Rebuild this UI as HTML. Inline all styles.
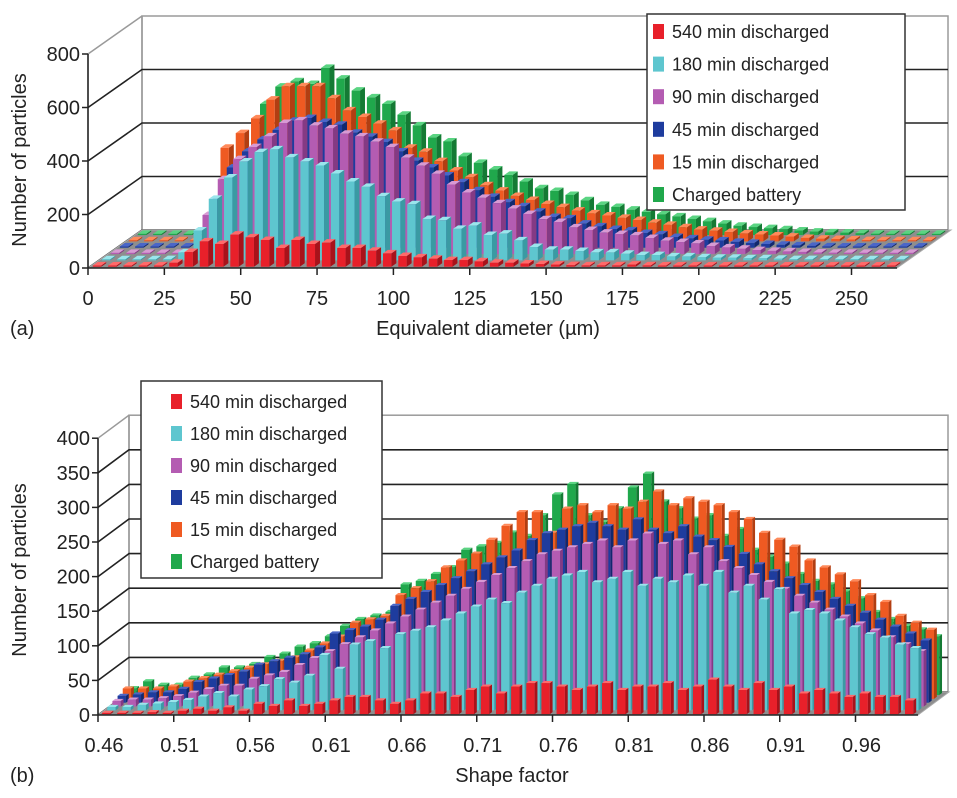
<!DOCTYPE html>
<html><head><meta charset="utf-8"><style>
html,body{margin:0;padding:0;background:#fff;}
svg{display:block;font-family:"Liberation Sans",sans-serif;}
</style></head><body>
<svg id="fig" width="957" height="798" viewBox="0 0 957 798" xmlns="http://www.w3.org/2000/svg"></svg>
<script>
// ---- Chart A data (Equivalent diameter, 5 µm bins) ----
const seriesNames = ["540 min discharged","180 min discharged","90 min discharged","45 min discharged","15 min discharged","Charged battery"];
const xTicksA = ["0","25","50","75","100","125","150","175","200","225","250"];
const yTicksA = [0,200,400,600,800];
const redA = [0,0,0,0,0,15,55,95,85,120,110,100,70,100,85,90,70,70,60,50,40,35,30,25,25,20,15,15,12,10,8,6,5,5,5,8,5,4,4,3,3,3,2,2,2,2,2,1,1,1,1,1,1];
const cyanA = [0,0,0,0,5,30,112,230,310,370,405,415,385,370,355,325,295,275,240,220,210,155,150,118,130,95,100,75,50,40,40,35,30,30,25,20,20,15,15,12,10,10,8,8,6,5,5,5,5,5,4,4,3];
const magentaA = [0,0,0,0,0,0,146,280,355,400,440,490,500,480,470,450,440,420,400,360,330,300,260,230,210,190,170,150,130,120,100,90,80,75,70,60,50,45,40,30,25,20,15,12,10,8,6,5,5,4,4,3,3];
const blueA = [0,0,0,0,0,18,180,300,360,405,440,475,485,470,460,430,415,395,360,325,300,270,245,215,190,170,155,135,115,110,90,80,70,65,55,50,40,35,30,27,22,18,14,11,9,7,5,4,4,3,3,2,2];
const orangeA = [0,0,0,0,0,88,350,405,460,530,580,580,580,535,490,465,440,415,350,335,300,265,240,210,190,170,155,140,128,115,105,97,88,80,70,62,53,44,40,35,30,26,22,18,13,10,9,7,5,4,4,3,3];
const greenA = [0,0,0,0,0,0,0,0,490,555,575,565,625,585,540,515,490,450,410,365,350,295,270,245,225,200,175,165,150,130,113,105,95,87,78,70,60,52,43,35,30,26,22,17,13,10,9,7,5,4,3,3,2];
// ---- Chart B data (Shape factor, 0.01 bins from 0.46) ----
const xTicksB = ["0.46","0.51","0.56","0.61","0.66","0.71","0.76","0.81","0.86","0.91","0.96"];
const yTicksB = [0,50,100,150,200,250,300,350,400];
const redB = [2,2,2,3,2,5,8,5,10,5,15,12,20,12,15,20,25,25,20,15,20,30,30,25,35,40,30,40,45,45,40,35,40,45,35,40,40,45,35,40,50,40,35,45,35,40,30,35,30,25,30,25,25,20];
const cyanB = [5,5,8,10,12,15,20,25,20,30,35,45,40,50,80,60,95,100,90,110,115,120,130,140,150,160,155,170,180,190,195,200,185,190,200,180,190,185,195,180,200,170,180,160,175,140,145,140,130,120,110,105,95,90];
const magentaB = [8,10,10,12,15,20,25,30,30,40,45,50,60,70,80,90,100,110,120,130,140,150,160,170,180,190,200,210,220,225,230,235,240,230,240,250,235,240,220,230,210,200,190,180,170,160,150,140,130,120,110,100,90,80];
const blueB = [10,12,15,15,20,30,35,40,45,55,60,65,70,80,100,105,110,120,140,150,160,170,180,190,200,210,220,235,245,250,255,260,255,250,265,250,245,255,240,235,225,215,200,190,180,170,160,150,140,130,120,110,100,90];
const orangeB = [15,15,15,18,25,30,35,40,45,50,55,60,70,80,90,110,115,120,150,160,170,190,200,210,230,250,270,270,240,275,280,270,280,275,285,300,280,290,285,280,270,260,240,230,220,200,190,180,170,150,140,120,110,100];
const greenB = [10,20,15,15,25,30,40,40,45,55,60,70,75,85,100,110,115,120,160,165,175,185,210,215,220,235,230,260,290,305,260,250,270,300,320,280,270,255,260,230,240,210,200,190,175,165,160,150,140,120,110,100,95,85];

const colors = ["#e8202a","#5ec6cf","#b45cb2","#1e3c9e","#ef5a22","#20a84c"];
const sides  = ["#a8121a","#3a9aa3","#843a84","#12286e","#b23e12","#147a34"];
const tops   = ["#ff6a6a","#9ae6ec","#d89ad4","#4a66c8","#ff8a5a","#5ad482"];
const NS = "http://www.w3.org/2000/svg";
const svg = document.getElementById("fig");
function mk(tag, attrs, parent){ const e=document.createElementNS(NS,tag); for(const k in attrs) e.setAttribute(k,attrs[k]); (parent||svg).appendChild(e); return e; }

function drawChart(c){
  const g = mk("g",{});
  
  
  const xs = (b)=> c.x0 + b*c.binW;
  const ys = (v)=> v*c.ppu;
  const yMax = c.yTicks[c.yTicks.length-1];
  const bx = c.x0+c.dx, by = c.y0+c.dy;
  const wall = mk("rect",{x:bx,y:by-ys(yMax),width:c.wallR-bx,height:ys(yMax),fill:"#fff",stroke:"#9a9a9a","stroke-width":1.5},g);
  
  
  mk("line",{x1:c.x0,y1:c.y0-ys(yMax),x2:bx,y2:by-ys(yMax),stroke:"#9a9a9a","stroke-width":1.5},g);
  mk("line",{x1:bx,y1:by,x2:bx,y2:by-ys(yMax),stroke:"#9a9a9a","stroke-width":1.5},g);
  c.yTicks.forEach(t=>{
    if(t===yMax) return;
    const gl = mk("polyline",{points:`${c.x0},${c.y0-ys(t)} ${bx},${by-ys(t)} ${c.wallR},${by-ys(t)}`,fill:"none",stroke:"#222","stroke-width":1.6},g);
    
    
  });
  const fl = mk("polygon",{points:`${c.x0},${c.y0} ${c.floorR},${c.y0} ${c.floorR+c.dx},${by} ${bx},${by}`,fill:"#8e8e8e",stroke:"#aaa","stroke-width":1},g);
  
  
  for(let k=5;k>=0;k--){
    const vals = c.series[k];
    const f1=(k+0.2)/6, f2=(k+0.75)/6;
    const ox1=f1*c.dx, oy1=f1*c.dy, ox2=f2*c.dx, oy2=f2*c.dy;
    for(let i=0;i<vals.length;i++){
      const L = xs(i+0.2)+ox1, R = xs(i+0.75)+ox1;
      const base = c.y0+oy1;
      const h = Math.max(1.2, ys(vals[i]));
      const top = base-h;
      const bg = mk("g",{},g);
      
      
      mk("polygon",{points:`${R},${base} ${R+ox2-ox1},${base+oy2-oy1} ${R+ox2-ox1},${top+oy2-oy1} ${R},${top}`,fill:sides[k]},bg);
      mk("polygon",{points:`${L},${top} ${R},${top} ${R+ox2-ox1},${top+oy2-oy1} ${L+ox2-ox1},${top+oy2-oy1}`,fill:tops[k]},bg);
      mk("rect",{x:L,y:top,width:R-L,height:h,fill:colors[k]},bg);
    }
  }
  mk("line",{x1:c.x0,y1:c.y0,x2:c.floorR,y2:c.y0,stroke:"#222","stroke-width":1.6},g);
  mk("line",{x1:c.x0,y1:c.y0,x2:c.x0,y2:c.y0-ys(yMax),stroke:"#222","stroke-width":1.6},g);
  c.yTicks.forEach(t=>{
    mk("line",{x1:c.x0-6,y1:c.y0-ys(t),x2:c.x0,y2:c.y0-ys(t),stroke:"#222","stroke-width":1.5},g);
    const tx = mk("text",{x:c.x0-8,y:c.y0-ys(t)+7,"text-anchor":"end","font-size":20,fill:"#222"},g);
    tx.textContent = t;
    
    
  });
  c.xTicks.forEach((lab,j)=>{
    const px = xs(j*c.tickEvery);
    mk("line",{x1:px,y1:c.y0,x2:px,y2:c.y0+7,stroke:"#222","stroke-width":1.5},g);
    const tx = mk("text",{x:px+c.labShift,y:c.y0+37,"text-anchor":"middle","font-size":20,fill:"#222"},g);
    tx.textContent = lab;
    
    
  });
  const lg = mk("g",{},g);
  
  
  mk("rect",{x:c.leg[0],y:c.leg[1],width:c.leg[2],height:c.leg[3],fill:"#fff",stroke:"#333","stroke-width":1.5},lg);
  seriesNames.forEach((n,k)=>{
    const y = c.leg[1]+c.legRow0+k*c.legStep;
    const e = mk("g",{},lg);
    
    
    mk("rect",{x:c.leg[0]+c.swX,y:y-8,width:11,height:15,fill:colors[k]},e);
    const t = mk("text",{x:c.leg[0]+c.swX+19,y:y+6,"font-size":18,fill:"#222"},e);
    t.textContent = n;
  });
}

drawChart({name:"chart-a",prefix:"a",x0:88,y0:268,binW:15.27,ppu:53.5/200,dx:54,dy:-38,floorR:897,wallR:948,
  yTicks:yTicksA,xTicks:xTicksA,tickEvery:5,labShift:0,keys:["540","180","90","45","15","charged"],
  series:[redA,cyanA,magentaA,blueA,orangeA,greenA],leg:[647,14,258,196],legRow0:18,legStep:32.6,swX:6});
drawChart({name:"chart-b",prefix:"b",x0:98,y0:715,binW:15.15,ppu:34.6/50,dx:31,dy:-23,floorR:918,wallR:948,
  yTicks:yTicksB,xTicks:xTicksB,tickEvery:5,labShift:6,keys:["540","180","90","45","15","charged"],
  series:[redB,cyanB,magentaB,blueB,orangeB,greenB],leg:[141,381,241,197],legRow0:21,legStep:32,swX:30});

function txt(x,y,s,attrs,name){ const t=mk("text",Object.assign({x:x,y:y,"font-size":20,fill:"#222"},attrs||{})); t.textContent=s;   return t; }
txt(26,160,"Number of particles",{"text-anchor":"middle",transform:"rotate(-90 26 160)"},"y-axis-title-a");
txt(26,570,"Number of particles",{"text-anchor":"middle",transform:"rotate(-90 26 570)"},"y-axis-title-b");
txt(488,335,"Equivalent diameter (\u00b5m)",{"text-anchor":"middle"},"x-axis-title-a");
txt(512,782,"Shape factor",{"text-anchor":"middle"},"x-axis-title-b");
txt(10,335,"(a)",{},"panel-label-a");
txt(10,782,"(b)",{},"panel-label-b");
</script>
</body></html>
